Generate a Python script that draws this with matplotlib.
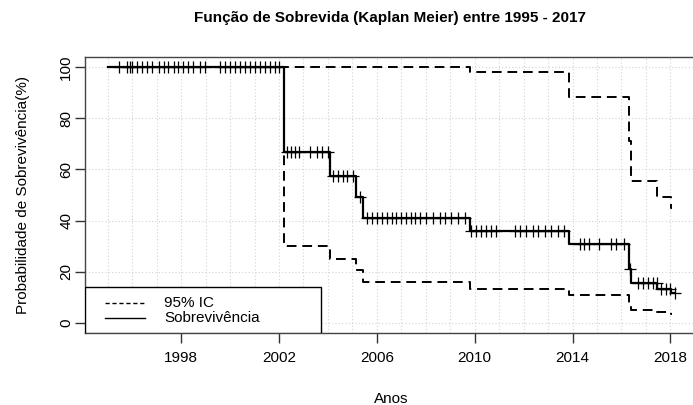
import matplotlib
matplotlib.use('Agg')
import matplotlib.pyplot as plt
from matplotlib.patches import Rectangle
from matplotlib.lines import Line2D

plt.rcParams['font.family'] = ['Liberation Sans', 'DejaVu Sans']

# Kaplan-Meier estimate (years, %)
surv_time = [1995.0, 2002.2, 2004.08, 2005.14, 2005.43, 2009.8, 2013.84, 2016.29, 2016.4, 2017.47, 2018.04, 2018.2]
surv_pct = [100, 66.7, 57.5, 49.2, 41.0, 36.0, 31.0, 21.0, 15.7, 13.4, 11.8, 11.8]

# 95% confidence bands
upper_time = [1995.0, 2009.8, 2013.84, 2016.29, 2016.4, 2017.47, 2018.04, 2018.08]
upper_pct = [100, 98.1, 88.3, 71.0, 55.5, 49.2, 44.9, 44.9]
lower_time = [1995.0, 2002.2, 2004.08, 2005.14, 2005.43, 2009.8, 2013.84, 2016.29, 2016.4, 2017.47, 2018.04, 2018.08]
lower_pct = [100, 30.0, 25.1, 20.5, 15.9, 13.3, 11.0, 7.5, 5.1, 4.1, 3.5, 3.5]

# censored observations
cens_time = [1995.48, 1995.78, 1995.89, 1995.99, 1996.19, 1996.40, 1996.60, 1996.80, 1997.08, 1997.28,
             1997.48, 1997.69, 1997.89, 1998.09, 1998.30, 1998.50, 1998.78, 1998.98, 1999.59, 1999.80,
             2000.0, 2000.2, 2000.41, 2000.61, 2000.82, 2001.02, 2001.22, 2001.43, 2001.63, 2001.84, 2002.01,
             2002.31, 2002.48, 2002.65, 2002.82, 2003.27, 2003.54, 2003.77, 2004.01,
             2004.2, 2004.4, 2004.6, 2004.8, 2005.03,
             2005.3,
             2005.6, 2005.8, 2006.0, 2006.2, 2006.4, 2006.6, 2006.8, 2007.0, 2007.2, 2007.4, 2007.55,
             2007.76, 2008.03, 2008.3, 2008.57, 2008.78, 2009.05, 2009.32, 2009.59,
             2009.87, 2010.07, 2010.27, 2010.48, 2010.68, 2010.89, 2011.63, 2011.84, 2012.11, 2012.38,
             2012.58, 2012.86, 2013.13, 2013.4, 2013.67,
             2014.29, 2014.49, 2014.69, 2015.1, 2015.58, 2015.78, 2016.12,
             2016.35,
             2016.67, 2016.87, 2017.07, 2017.28, 2017.44,
             2017.62, 2017.82, 2017.99,
             2018.2]
cens_pct = ([100] * 31 + [66.7] * 8 + [57.5] * 5 + [49.2] + [41.0] * 19 + [36.0] * 15
            + [31.0] * 7 + [21.0] + [15.7] * 5 + [13.4] * 3 + [11.8])

x_ticks = [1998, 2002, 2006, 2010, 2014, 2018]
y_ticks = [0, 20, 40, 60, 80, 100]

fig = plt.figure(figsize=(6.93, 4.05), dpi=100)
ax = fig.add_axes([85 / 693, 72 / 405, 613 / 693, 276 / 405])

# grid: every year, every 20%
for yr in range(1995, 2020):
    ax.axvline(yr, color='#d3d3d3', lw=0.8, ls=(0, (1, 2)), zorder=0)
for yv in y_ticks:
    ax.axhline(yv, color='#d3d3d3', lw=0.8, ls=(0, (1, 2)), zorder=0)

ax.step(upper_time, upper_pct, where='post', color='black', lw=1.4, dashes=(5, 3), zorder=2)
ax.step(lower_time, lower_pct, where='post', color='black', lw=1.4, dashes=(5, 3), zorder=2)
ax.step(surv_time, surv_pct, where='post', color='black', lw=1.6, zorder=3)
ax.plot(cens_time, cens_pct, ls='none', marker='+', ms=8, mew=0.9, color='black', zorder=3)

ax.set_xlim(1994.07, 2019.13)
ax.set_ylim(-4, 104)
ax.set_xticks(x_ticks)
ax.set_yticks(y_ticks)
ax.set_xticklabels([str(t) for t in x_ticks], fontsize=11)
ax.set_yticklabels([str(t) for t in y_ticks], fontsize=11, rotation=90, va='center')
ax.tick_params(direction='out', length=7, width=1, colors='#333333', labelcolor='black')
ax.tick_params(axis='x', pad=6)
ax.tick_params(axis='y', pad=1.5)
for side in ['left', 'bottom', 'top', 'right']:
    ax.spines[side].set_color('#444444')
    ax.spines[side].set_linewidth(1)

ax.set_xlabel('Anos', fontsize=11, labelpad=19.5)
ax.set_ylabel('Probabilidade de Sobrevivência(%)', fontsize=11, labelpad=21)
fig.suptitle('Função de Sobrevida (Kaplan Meier) entre 1995 - 2017', fontsize=11,
             fontweight='bold', x=390 / 693, y=1 - 18 / 405, va='center')

# legend box in R style
ax.add_patch(Rectangle((0, 0), 0.385, 0.1667, transform=ax.transAxes, facecolor='white',
                       edgecolor='black', lw=1, zorder=5))
ax.add_line(Line2D([0.0326, 0.098], [0.1087, 0.1087], transform=ax.transAxes, color='black',
                   lw=1, dashes=(3, 2), zorder=6))
ax.add_line(Line2D([0.0326, 0.098], [0.0543, 0.0543], transform=ax.transAxes, color='black',
                   lw=1, zorder=6))
ax.text(0.129, 0.1087, '95% IC', transform=ax.transAxes, fontsize=11, va='center', zorder=6)
ax.text(0.129, 0.0543, 'Sobrevivência', transform=ax.transAxes, fontsize=11, va='center', zorder=6)

fig.savefig('out.png', dpi=100)
